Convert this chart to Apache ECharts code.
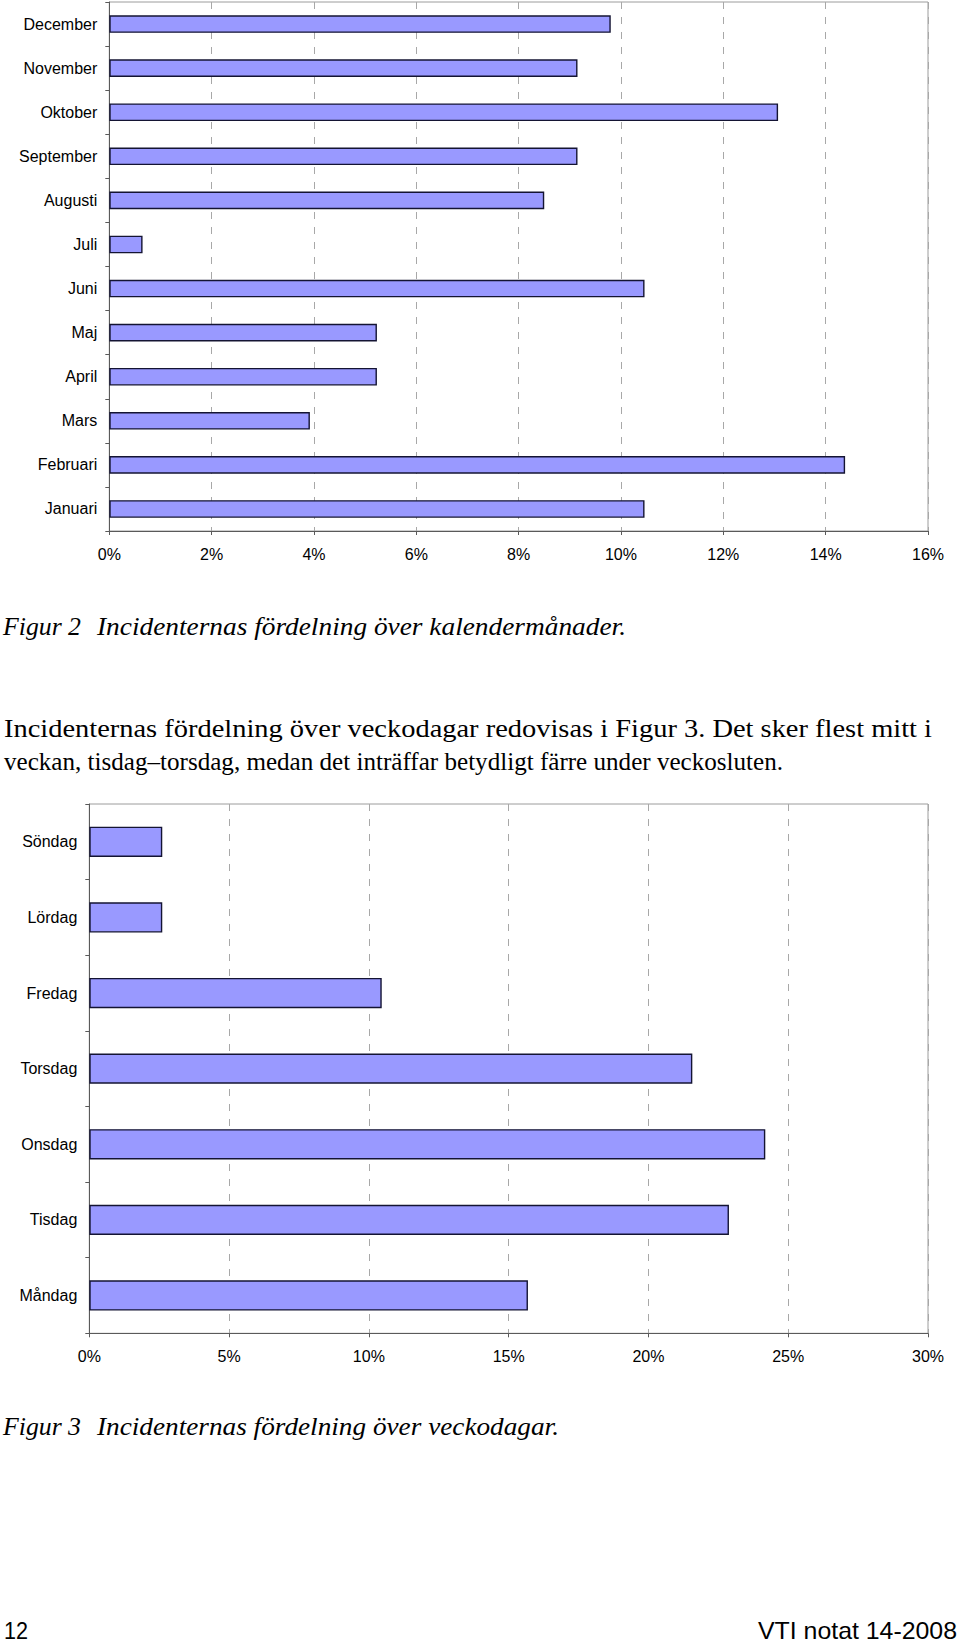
<!DOCTYPE html>
<html>
<head>
<meta charset="utf-8">
<script src="https://cdn.jsdelivr.net/npm/echarts@6/dist/echarts.min.js"></script>
<style>
  html, body { margin: 0; padding: 0; background: #fff; }
  #wrap { position: relative; width: 960px; height: 1646px; }
  #chart { position: absolute; left: 0; top: 0; width: 960px; height: 1646px; }
  #txt { position: absolute; left: 0; top: 0; pointer-events: none; }
</style>
</head>
<body>
<div id="wrap">
  <div id="chart"></div>
  <svg id="txt" width="960" height="1646" xmlns="http://www.w3.org/2000/svg"></svg>
</div>
<script>
// ---- Data ----
const months = ['Januari', 'Februari', 'Mars', 'April', 'Maj', 'Juni', 'Juli', 'Augusti', 'September', 'Oktober', 'November', 'December'];
const monthShare = [10.46, 14.38, 3.92, 5.23, 5.23, 10.46, 0.65, 8.50, 9.15, 13.07, 9.15, 9.80];
const monthAxisMax = 16;
const monthAxisStep = 2;

const days = ['Måndag', 'Tisdag', 'Onsdag', 'Torsdag', 'Fredag', 'Lördag', 'Söndag'];
const dayShare = [15.69, 22.88, 24.18, 21.57, 10.46, 2.61, 2.61];
const dayAxisMax = 30;
const dayAxisStep = 5;

const caption2Label = 'Figur 2';
const caption2Text = 'Incidenternas fördelning över kalendermånader.';
const paragraphLines = [
  'Incidenternas fördelning över veckodagar redovisas i Figur 3. Det sker flest mitt i',
  'veckan, tisdag\u2013torsdag, medan det inträffar betydligt färre under veckosluten.'
];
const caption3Label = 'Figur 3';
const caption3Text = 'Incidenternas fördelning över veckodagar.';
const pageNumber = '12';
const footerRight = 'VTI notat 14-2008';

// ---- Chart ----
const labelFont = { fontFamily: 'Liberation Sans, Arial, sans-serif', fontSize: 16, color: '#000' };
const axisDark = '#5a5a5a';

function xAxisCfg(gridIndex, max, step) {
  return {
    type: 'value', gridIndex: gridIndex, min: 0, max: max, interval: step,
    axisLine: { show: true, lineStyle: { color: axisDark, width: 1 } },
    axisTick: { show: true, length: 4, inside: false, lineStyle: { color: axisDark } },
    axisLabel: Object.assign({ formatter: '{value}%', margin: 15 }, labelFont),
    splitLine: { show: true, lineStyle: { color: '#a8a8a8', type: [7, 8], width: 1 } }
  };
}
function yAxisCfg(gridIndex, cats) {
  return {
    type: 'category', gridIndex: gridIndex, data: cats,
    axisLine: { show: true, lineStyle: { color: axisDark, width: 1 } },
    axisTick: { show: true, length: 4, inside: false, lineStyle: { color: axisDark } },
    axisLabel: Object.assign({ margin: 12 }, labelFont),
    splitLine: { show: false }
  };
}
const barStyle = { color: '#9999ff', borderColor: '#141433', borderWidth: 1.4 };

const chart = echarts.init(document.getElementById('chart'), null, { renderer: 'svg', width: 960, height: 1646 });
chart.setOption({
  animation: false,
  backgroundColor: '#ffffff',
  grid: [
    { left: 109.3, top: 2, width: 818.7, height: 529, show: true, borderColor: '#9c9c9c', borderWidth: 1, backgroundColor: 'transparent' },
    { left: 89.3, top: 804, width: 838.7, height: 529.3, show: true, borderColor: '#9c9c9c', borderWidth: 1, backgroundColor: 'transparent' }
  ],
  xAxis: [xAxisCfg(0, monthAxisMax, monthAxisStep), xAxisCfg(1, dayAxisMax, dayAxisStep)],
  yAxis: [yAxisCfg(0, months), yAxisCfg(1, days)],
  series: [
    { type: 'bar', xAxisIndex: 0, yAxisIndex: 0, data: monthShare, barCategoryGap: '60%', itemStyle: barStyle },
    { type: 'bar', xAxisIndex: 1, yAxisIndex: 1, data: dayShare, barCategoryGap: '60%', itemStyle: barStyle }
  ]
});

// ---- Text ----
const svgNS = 'http://www.w3.org/2000/svg';
const svg = document.getElementById('txt');
function addText(str, x, y, opts) {
  const t = document.createElementNS(svgNS, 'text');
  t.setAttribute('x', x);
  t.setAttribute('y', y);
  t.setAttribute('font-family', opts.family);
  t.setAttribute('font-size', opts.size);
  t.setAttribute('fill', '#000');
  if (opts.italic) t.setAttribute('font-style', 'italic');
  if (opts.anchor) t.setAttribute('text-anchor', opts.anchor);
  if (opts.len) { t.setAttribute('textLength', opts.len); t.setAttribute('lengthAdjust', 'spacingAndGlyphs'); }
  t.textContent = str;
  svg.appendChild(t);
}
const serif = 'Liberation Serif, Times New Roman, serif';
const narrow = 'Liberation Sans Narrow, Arial Narrow, Liberation Sans, Arial, sans-serif';

addText(caption2Label, 3, 635, { family: serif, size: 25, italic: true, len: 78 });
addText(caption2Text, 97, 635, { family: serif, size: 25, italic: true, len: 529 });
addText(paragraphLines[0], 4, 737, { family: serif, size: 25, len: 928 });
addText(paragraphLines[1], 4, 770, { family: serif, size: 25, len: 779 });
addText(caption3Label, 3, 1435, { family: serif, size: 25, italic: true, len: 78 });
addText(caption3Text, 97, 1435, { family: serif, size: 25, italic: true, len: 462 });
addText(pageNumber, 4, 1639, { family: narrow, size: 24, len: 24 });
addText(footerRight, 957, 1639, { family: narrow, size: 24, anchor: 'end', len: 199 });
</script>
</body>
</html>
